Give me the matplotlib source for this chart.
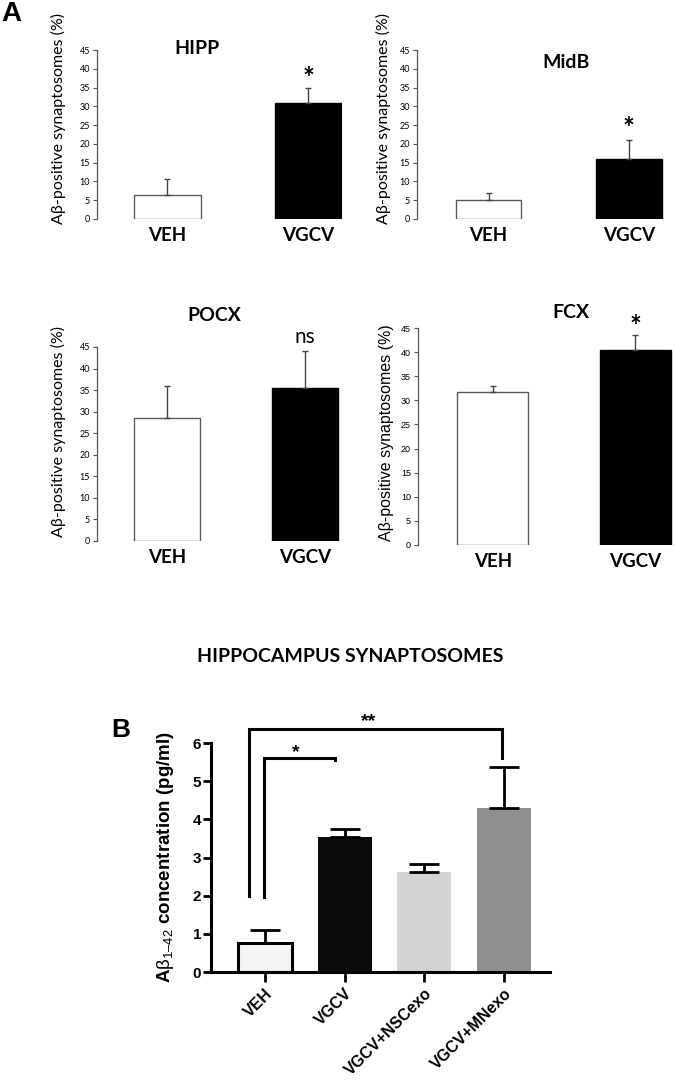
import matplotlib
matplotlib.use('Agg')
import matplotlib.pyplot as plt
import numpy as np

plt.rcParams['font.family'] = ['Lato', 'DejaVu Sans']
plt.rcParams['mathtext.fontset'] = 'custom'
plt.rcParams['mathtext.rm'] = 'Liberation Sans'
plt.rcParams['mathtext.it'] = 'Liberation Sans'

# panel A data
regions = ['HIPP', 'MidB', 'POCX', 'FCX']
groups_a = ['VEH', 'VGCV']
veh_mean = [6.3, 5.1, 28.5, 31.8]
veh_err = [4.3, 1.9, 7.5, 1.2]
vgcv_mean = [31.0, 16.0, 35.6, 40.4]
vgcv_err = [3.8, 5.0, 8.4, 3.2]
sig_a = ['*', '*', 'ns', '*']
yticks_a = [0, 5, 10, 15, 20, 25, 30, 35, 40, 45]

# panel B data
groups_b = ['VEH', 'VGCV', 'VGCV+NSCexo', 'VGCV+MNexo']
conc = [0.77, 3.55, 2.61, 4.31]
conc_err = [0.33, 0.20, 0.21, 1.06]
colors_b = ['#f4f4f4', '#0b0b0b', '#d4d4d4', '#8f8f8f']

fig = plt.figure(figsize=(6.75, 10.8), dpi=100)


def add_px_axes(left, right, bottom, top):
    return fig.add_axes([left / 675, 1 - bottom / 1080,
                         (right - left) / 675, (bottom - top) / 1080])


# layout of the four small panels (pixel boxes + xlim), title/star spots
boxes = [(97, 342, 219, 50), (417, 675, 219, 50),
         (97, 342, 541, 347), (418, 675, 545, 328)]
xlims = [(-0.5, 1.24), (-0.51, 1.33), (-0.51, 1.27), (-0.525, 1.28)]
widths = [0.475, 0.47, 0.48, 0.5]
title_pos = [(0.21, 45.5), (0.55, 41.8), (0.34, 52.4), (0.55, 48.3)]
sig_y = [39.1, 25.8, 47.3, 47.1]
label_x = [58, 383, 58, 386]
label_y = [118, 118, 431, 433]

for i in range(4):
    l, r, b, t = boxes[i]
    ax = add_px_axes(l, r, b, t)
    x = np.arange(2)
    ax.bar(x, [veh_mean[i], vgcv_mean[i]], width=widths[i],
           color=['white', 'black'], edgecolor=['#5a5a5a', 'black'], linewidth=1.0)
    ax.errorbar(x, [veh_mean[i], vgcv_mean[i]],
                yerr=[[0, 0], [veh_err[i], vgcv_err[i]]],
                fmt='none', ecolor='#444444', elinewidth=1.0, capsize=2.5, capthick=1.0)
    ax.set_xlim(*xlims[i])
    ax.set_ylim(0, 45)
    ax.set_yticks(yticks_a)
    ax.set_xticks(x)
    ax.set_xticklabels(groups_a, fontsize=13.5, fontweight='bold')
    ax.tick_params(axis='x', length=0, pad=6)
    fam = ['Liberation Sans', 'DejaVu Sans'] if regions[i] == 'FCX' else ['Lato', 'DejaVu Sans']
    ax.tick_params(axis='y', labelsize=6.5, length=3, width=0.8, color='#555555', pad=2)
    for lab in ax.get_yticklabels():
        lab.set_family(fam)
    for s in ['top', 'right', 'bottom']:
        ax.spines[s].set_visible(False)
    ax.spines['left'].set_color('#555555')
    ax.spines['left'].set_linewidth(0.9)
    ax.patch.set_alpha(0)
    ax.text(title_pos[i][0], title_pos[i][1], regions[i], fontsize=14,
            fontweight='bold', ha='center', va='center', clip_on=False)
    if sig_a[i] == 'ns':
        ax.text(1, sig_y[i], 'ns', fontsize=15, ha='center', va='center', clip_on=False)
    else:
        ax.text(1, sig_y[i] - 1.8, '*', fontsize=20, fontweight='bold',
                ha='center', va='center', clip_on=False)
    fig.text(label_x[i] / 675, 1 - label_y[i] / 1080, 'Aβ-positive synaptosomes (%)',
             rotation=90, ha='center', va='center', fontsize=11.5, family=fam)

fig.text(1 / 675, 1 - 1 / 1080, 'A', fontsize=20, fontweight='bold',
         family=['Liberation Sans'], ha='left', va='top')

# panel B
fig.text(350 / 675, 1 - 656 / 1080, 'HIPPOCAMPUS SYNAPTOSOMES', fontsize=14,
         fontweight='bold', ha='center', va='center')
fig.text(121 / 675, 1 - 730 / 1080, 'B', fontsize=19, fontweight='bold',
         family=['Liberation Sans'], ha='center', va='center')

axb = add_px_axes(211, 550, 972, 743)
xb = np.arange(len(groups_b))
axb.bar(xb, conc, width=0.68, color=colors_b,
        edgecolor=['black', colors_b[1], colors_b[2], colors_b[3]],
        linewidth=[2.2, 0, 0, 0])
axb.errorbar(xb, conc, yerr=[np.zeros(4), conc_err], fmt='none', ecolor='black',
             elinewidth=2.0, capsize=10.5, capthick=2.0)
axb.set_xlim(-0.68, 3.58)
axb.set_ylim(0, 6)
axb.set_yticks(range(7))
axb.set_xticks(xb)
axb.set_xticklabels(groups_b, rotation=45, ha='right', rotation_mode='anchor',
                    fontsize=11.5, fontweight='bold', family=['Liberation Sans'])
for lab in axb.get_yticklabels():
    lab.set_fontweight('bold')
    lab.set_family(['Liberation Sans'])
axb.tick_params(axis='y', labelsize=11, length=6, width=2, pad=1)
axb.tick_params(axis='x', length=7, width=2, pad=3)
for s in ['top', 'right']:
    axb.spines[s].set_visible(False)
for s in ['left', 'bottom']:
    axb.spines[s].set_linewidth(2.2)
axb.set_ylabel('A$\\beta_{1\u201342}$ concentration (pg/ml)', fontsize=13.5,
               fontweight='bold', family=['Liberation Sans'])
axb.yaxis.set_label_coords((176 - 211) / 339, 0.5)

# significance brackets
axb.plot([-0.02, -0.02, 0.88, 0.88], [1.97, 5.61, 5.61, 5.55], color='black',
         lw=2.2, clip_on=False, solid_joinstyle='miter')
axb.plot([-0.2, -0.2, 2.98, 2.98], [2.0, 6.36, 6.36, 5.6], color='black',
         lw=2.2, clip_on=False, solid_joinstyle='miter')
axb.text(0.38, 5.75, '*', fontsize=14, fontweight='bold', ha='center', va='center',
         family=['Liberation Sans'], clip_on=False)
axb.text(1.3, 6.55, '**', fontsize=14, fontweight='bold', ha='center', va='center',
         family=['Liberation Sans'], clip_on=False)

fig.savefig('out.png', dpi=100)
